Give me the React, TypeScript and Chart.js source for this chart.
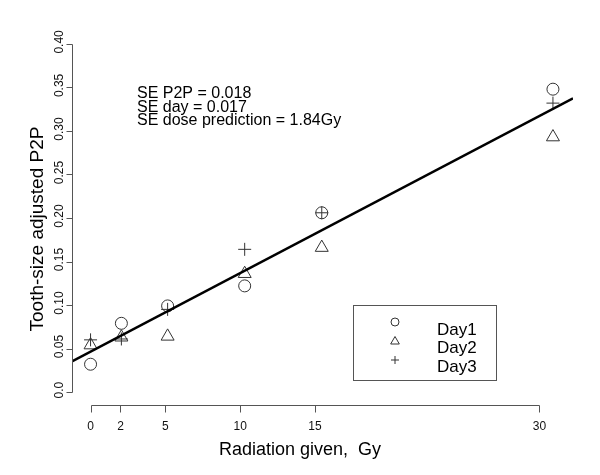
import React, { useEffect, useRef } from "react";
import { Chart, registerables } from "chart.js";

Chart.register(...registerables);

const doses = [0, 2.06, 5.15, 10.3, 15.45, 30.9];
const day1 = [0.032, 0.079, 0.099, 0.122, 0.206, 0.348];
const day2 = [0.054, 0.063, 0.064, 0.136, 0.166, 0.293];
const day3 = [0.06, 0.061, 0.095, 0.164, 0.206, 0.332];
const seriesNames = ["Day1", "Day2", "Day3"];
const xTicks = [0, 2, 5, 10, 15, 30];
const yTicks = [0, 0.05, 0.1, 0.15, 0.2, 0.25, 0.3, 0.35, 0.4];
const yTickLabels = ["0.0", "0.05", "0.10", "0.15", "0.20", "0.25", "0.30", "0.35", "0.40"];
const fitIntercept = 0.0464;
const fitSlope = 0.00903;
const xRange = [-1.24, 32.24];
const yRange = [-0.016, 0.416];
const annotationLines = ["SE P2P = 0.018", "SE day = 0.017", "SE dose prediction = 1.84Gy"];
const xTitle = "Radiation given,  Gy";
const yTitle = "Tooth-size adjusted P2P";

const FONT = "'Liberation Sans', Arial, sans-serif";
const AXIS_COLOR = "#555";
const MARK_COLOR = "#333";

function drawMarker(ctx: CanvasRenderingContext2D, style: string, x: number, y: number, r: number) {
  ctx.beginPath();
  if (style === "circle") {
    ctx.arc(x, y, r, 0, Math.PI * 2);
  } else if (style === "triangle") {
    const h = r * 1.5;
    const half = (r * Math.sqrt(3)) / 2;
    ctx.moveTo(x, y - (2 / 3) * h);
    ctx.lineTo(x + half, y + h / 3);
    ctx.lineTo(x - half, y + h / 3);
    ctx.closePath();
  } else {
    ctx.moveTo(x - r, y);
    ctx.lineTo(x + r, y);
    ctx.moveTo(x, y - r);
    ctx.lineTo(x, y + r);
  }
  ctx.stroke();
}

const decorPlugin = {
  id: "decor",
  afterDraw(chart: any) {
    const ctx: CanvasRenderingContext2D = chart.ctx;
    const xs = chart.scales.x;
    const ys = chart.scales.y;
    const area = chart.chartArea;
    ctx.save();
    ctx.strokeStyle = AXIS_COLOR;
    ctx.lineWidth = 1;
    ctx.fillStyle = "#111";

    // y axis
    const ax = Math.round(area.left) + 0.5;
    ctx.beginPath();
    ctx.moveTo(ax, Math.round(ys.getPixelForValue(yTicks[0])) + 0.5);
    ctx.lineTo(ax, Math.round(ys.getPixelForValue(yTicks[yTicks.length - 1])) + 0.5);
    yTicks.forEach((v) => {
      const py = Math.round(ys.getPixelForValue(v)) + 0.5;
      ctx.moveTo(ax, py);
      ctx.lineTo(ax - 6, py);
    });
    ctx.stroke();
    ctx.font = `12px ${FONT}`;
    ctx.textAlign = "center";
    ctx.textBaseline = "alphabetic";
    yTicks.forEach((v, i) => {
      const py = ys.getPixelForValue(v);
      ctx.save();
      ctx.translate(63, py - 2);
      ctx.rotate(-Math.PI / 2);
      ctx.fillText(yTickLabels[i], 0, 0);
      ctx.restore();
    });

    // x axis
    const ay = Math.round(area.bottom) - 0.5;
    ctx.beginPath();
    ctx.moveTo(Math.round(xs.getPixelForValue(xTicks[0])) + 0.5, ay);
    ctx.lineTo(Math.round(xs.getPixelForValue(xTicks[xTicks.length - 1])) + 0.5, ay);
    xTicks.forEach((v) => {
      const px = Math.round(xs.getPixelForValue(v)) + 0.5;
      ctx.moveTo(px, ay);
      ctx.lineTo(px, ay + 7);
    });
    ctx.stroke();
    ctx.textBaseline = "middle";
    xTicks.forEach((v) => {
      ctx.fillText(String(v), xs.getPixelForValue(v), 427);
    });

    // titles
    ctx.fillStyle = "#000";
    ctx.font = `18px ${FONT}`;
    ctx.textBaseline = "alphabetic";
    ctx.fillText(xTitle, 300, 455);
    ctx.save();
    ctx.translate(43, 229);
    ctx.rotate(-Math.PI / 2);
    ctx.font = `19px ${FONT}`;
    ctx.fillText(yTitle, 0, 0);
    ctx.restore();

    // annotation
    ctx.font = `16px ${FONT}`;
    ctx.textAlign = "left";
    annotationLines.forEach((t, i) => {
      ctx.fillText(t, 137, 98 + i * 13.5);
    });

    // legend
    ctx.strokeStyle = AXIS_COLOR;
    ctx.strokeRect(353.5, 305.5, 143, 75);
    const styles = ["circle", "triangle", "cross"];
    const sizes = [4, 5, 4];
    const markY = [322, 341.5, 360];
    const textY = [335, 353, 371.5];
    ctx.font = `17px ${FONT}`;
    ctx.fillStyle = "#000";
    seriesNames.forEach((name, i) => {
      ctx.strokeStyle = MARK_COLOR;
      drawMarker(ctx, styles[i], 395, markY[i], sizes[i]);
      ctx.fillText(name, 437, textY[i]);
    });
    ctx.restore();
  },
};

export default function App() {
  const ref = useRef<HTMLCanvasElement | null>(null);
  useEffect(() => {
    if (!ref.current) return;
    const mk = (vals: number[]) => doses.map((d, i) => ({ x: d, y: vals[i] }));
    const chart = new Chart(ref.current, {
      type: "scatter",
      data: {
        datasets: [
          {
            label: "fit",
            data: xRange.map((x) => ({ x, y: fitIntercept + fitSlope * x })),
            showLine: true,
            borderColor: "#000",
            borderWidth: 2.5,
            pointRadius: 0,
            fill: false,
          },
          {
            label: seriesNames[0],
            data: mk(day1),
            pointStyle: "circle",
            pointRadius: 6,
            borderColor: MARK_COLOR,
            backgroundColor: "rgba(0,0,0,0)",
            pointBorderWidth: 1,
          },
          {
            label: seriesNames[1],
            data: mk(day2),
            pointStyle: "triangle",
            pointRadius: 7.5,
            borderColor: MARK_COLOR,
            backgroundColor: "rgba(0,0,0,0)",
            pointBorderWidth: 1,
          },
          {
            label: seriesNames[2],
            data: mk(day3),
            pointStyle: "cross",
            pointRadius: 6.5,
            borderColor: MARK_COLOR,
            backgroundColor: "rgba(0,0,0,0)",
            pointBorderWidth: 1,
          },
        ],
      },
      options: {
        animation: false,
        responsive: false,
        devicePixelRatio: 1,
        layout: { padding: { left: 72, right: 27, top: 30, bottom: 69 } },
        plugins: { legend: { display: false }, tooltip: { enabled: false } },
        scales: {
          x: { type: "linear", min: xRange[0], max: xRange[1], display: false },
          y: { type: "linear", min: yRange[0], max: yRange[1], display: false },
        },
      },
      plugins: [decorPlugin],
    });
    return () => chart.destroy();
  }, []);
  return (
    <div style={{ position: "absolute", left: 0, top: 0, width: 600, height: 475, background: "#fff" }}>
      <canvas ref={ref} width={600} height={475} style={{ width: 600, height: 475 }} />
    </div>
  );
}
